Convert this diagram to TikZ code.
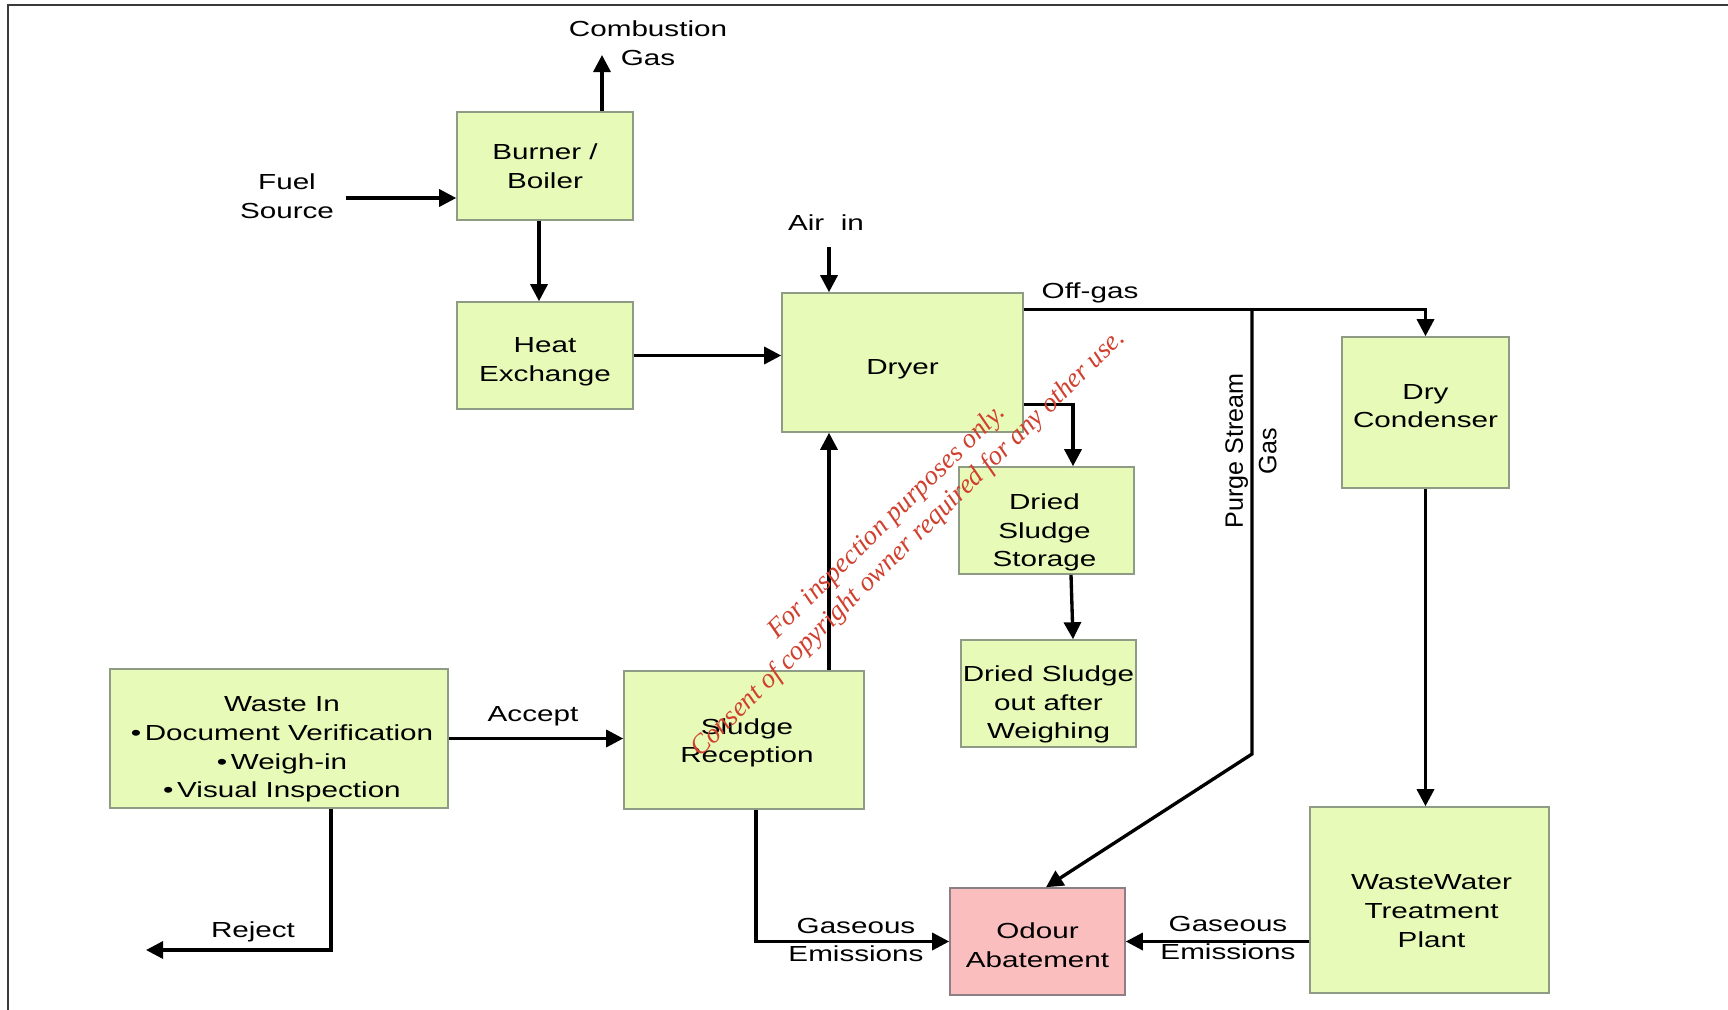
\documentclass[tikz,border=0pt]{standalone}
\usepackage{fontspec}
\setmainfont{Liberation Sans}[FakeStretch=1.36]
\newfontfamily\plainfont{Liberation Sans}
\newfontfamily\markfont{Liberation Serif}
\usepackage{xcolor}
\usetikzlibrary{arrows.meta,positioning,calc}
\definecolor{limefill}{HTML}{E7FAB8}
\definecolor{limeedge}{HTML}{8E9C86}
\definecolor{pinkfill}{HTML}{FBBEBE}
\definecolor{pinkedge}{HTML}{8C7F85}
\definecolor{stampred}{HTML}{D0402E}
\definecolor{frameink}{HTML}{3A3A3A}
\begin{document}
\begin{tikzpicture}[
  x=0.2mm,y=-0.2mm,
  proc/.style={draw=limeedge,fill=limefill,line width=0.9pt,inner sep=0pt},
  treat/.style={proc,draw=pinkedge,fill=pinkfill},
  lbl/.style={align=center,inner sep=0pt,font=\fontsize{12.4}{16.3}\selectfont},
  arr/.style={-{Triangle[length=3.4mm,width=3.4mm]},line width=1.9pt,black}
]
\useasboundingbox (0,0) rectangle (1728,1010);
\draw[frameink,line width=0.4mm] (1728,5) -- (8,5) -- (8,1010);
\node[proc,minimum width=35.2mm,minimum height=21.6mm,
  label={[lbl]center:Burner /\\Boiler}] (burner) at (545,166) {};
\node[proc,minimum width=35.2mm,minimum height=21.4mm,
  label={[lbl,yshift=-1.3mm]center:Heat\\Exchange}] (heatx) at (545,355.5) {};
\node[proc,minimum width=48.2mm,minimum height=27.8mm,
  label={[lbl,yshift=-1.3mm]center:Dryer}] (dryer) at (902.5,362.5) {};
\node[proc,minimum width=35mm,minimum height=21.4mm,
  label={[lbl,yshift=-2.4mm,xshift=-0.4mm]center:Dried\\Sludge\\Storage}] (storage) at (1046.5,520.5) {};
\node[proc,minimum width=35mm,minimum height=21.4mm,
  label={[lbl,yshift=-2.2mm]center:Dried Sludge\\out after\\Weighing}] (dsout) at (1048.5,693.5) {};
\node[proc,minimum width=33.4mm,minimum height=30.2mm,
  label={[lbl,yshift=1.3mm]center:Dry\\Condenser}] (condenser) at (1425.5,412.5) {};
\node[proc,minimum width=47.8mm,minimum height=37.2mm,
  label={[lbl,yshift=-2.2mm,xshift=0.4mm]center:WasteWater\\Treatment\\Plant}] (wwtp) at (1429.5,900) {};
\node[treat,minimum width=35mm,minimum height=21.4mm,
  label={[lbl,yshift=-0.7mm]center:Odour\\Abatement}] (odour) at (1037.5,941.5) {};
\node[proc,minimum width=48mm,minimum height=27.6mm,
  label={[lbl,yshift=-0.6mm,xshift=0.6mm]center:Sludge\\Reception}] (reception) at (744,740) {};
\node[proc,minimum width=67.6mm,minimum height=27.8mm,
  label={[lbl,yshift=-2.2mm,xshift=0.6mm]center:Waste In\\•\,Document Verification\\•\,Weigh-in\\•\,Visual Inspection}]
  (wastein) at (279,738.5) {};
\coordinate (cgtip) at (602,55);
\coordinate (fuelst) at (346,198);
\coordinate (airst) at (829,247);
\coordinate (purgetop) at (1252,310);
\coordinate (purgebend) at (1252,754);
\coordinate (rejend) at (146,950);
\node[lbl] (cglbl) at (648,43) {Combustion\\Gas};
\node[lbl] (fuellbl) at (287,196) {Fuel\\Source};
\node[lbl] (airlbl) at (826,223) {Air\ \ in};
\node[lbl] (offlbl) at (1090,293) {Off-gas};
\node[lbl,rotate=90,font=\plainfont\fontsize{14.3}{19}\selectfont] (purgelbl) at (1251,451) {Purge Stream\\Gas};
\node[lbl] (acclbl) at (533,716) {Accept};
\node[lbl] (rejlbl) at (253,932) {Reject};
\node[lbl] (gas1lbl) at (856,940) {Gaseous\\Emissions};
\node[lbl] (gas2lbl) at (1228,938) {Gaseous\\Emissions};
\draw[arr] (burner.north -| cgtip) -- (cgtip);
\draw[arr] (fuelst) -- (fuelst -| burner.west);
\draw[arr] ([xshift=-1.2mm]burner.south) -- ([xshift=-1.2mm]heatx.north);
\draw[arr] (heatx.east) -- (heatx.east -| dryer.west);
\draw[arr] (airst) -- (airst |- dryer.north);
\draw[arr] (reception.north -| airst) -- (dryer.south -| airst);
\draw[arr] ([yshift=-3.4mm]dryer.north east) -| (condenser.north);
\draw[arr] ([yshift=5.6mm]dryer.south east) -| ([xshift=5.3mm]storage.north);
\draw[arr] ([xshift=4.9mm]storage.south) -- ([xshift=4.9mm]dsout.north);
\draw[arr] (purgetop) -- (purgebend) -- ([xshift=1.7mm]odour.north);
\draw[arr] (condenser.south) -- (condenser.south |- wwtp.north);
\draw[arr] (wwtp.west |- odour.east) -- (odour.east);
\draw[arr] ([xshift=2.4mm]reception.south) |- (odour.west);
\draw[arr] (wastein.east) -- (wastein.east -| reception.west);
\draw[arr] ([xshift=10.4mm]wastein.south) |- (rejend);
\node[rotate=44.5,align=center,inner sep=0pt,text=stampred,
  font=\markfont\itshape\fontsize{15.4}{17.5}\selectfont] (stamp) at (898,533)
  {For inspection purposes only.\\Consent of copyright owner required for any other use.};
\end{tikzpicture}
\end{document}
